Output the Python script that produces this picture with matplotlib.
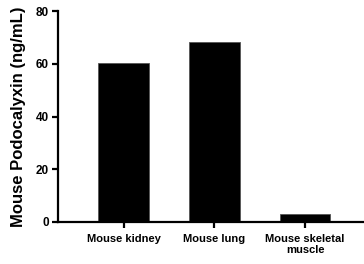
import matplotlib
matplotlib.use("Agg")
import matplotlib.pyplot as plt

categories = ["Mouse kidney", "Mouse lung", "Mouse skeletal\nmuscle"]
values = [60.2, 68.2, 3.0]
yticks = [0, 20, 40, 60, 80]

plt.rcParams['font.family'] = ['Liberation Sans', 'DejaVu Sans']
plt.rcParams['font.weight'] = 'bold'

fig = plt.figure(figsize=(3.64, 2.64), dpi=100)
ax = fig.add_axes([58/364, 42/264, 1 - 58/364, 211/264])
x = list(range(len(categories)))
ax.bar(x, values, width=0.557, color='black', edgecolor='#555555', linewidth=0.6)
ax.set_xlim(-0.724, 2.65)
ax.set_ylim(0, 80)
ax.set_yticks(yticks)
ax.set_xticks(x)
ax.set_xticklabels(categories, fontsize=8, fontweight='bold', linespacing=1.1)
ax.set_yticklabels([str(v) for v in yticks], fontsize=8.5, fontweight='bold')
for s in ['top', 'right']:
    ax.spines[s].set_visible(False)
for s in ['left', 'bottom']:
    ax.spines[s].set_linewidth(1.6)
ax.tick_params(axis='both', width=1.6, length=4.5, direction='out')
ax.tick_params(axis='y', pad=2)
ax.tick_params(axis='x', pad=4)
ax.set_ylabel("Mouse Podocalyxin (ng/mL)", fontsize=12, fontweight='bold', labelpad=7)
fig.savefig("out.png", dpi=100)
